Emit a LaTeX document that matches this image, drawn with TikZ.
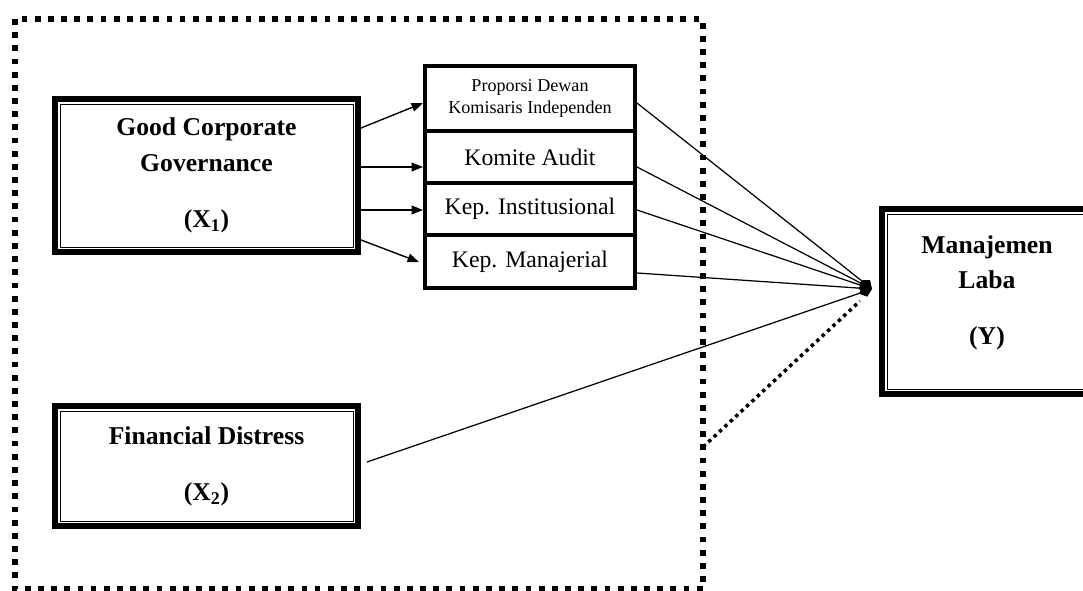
\documentclass[tikz,border=0pt]{standalone}
\usepackage{fontspec}
\setmainfont{Liberation Serif}
\usetikzlibrary{arrows.meta}
\tikzset{
  dbox/.style={draw, line width=3.4pt, outer sep=0pt, inner sep=0pt},
  headtext/.style={align=center, font=\fontsize{14.6}{20}\selectfont\bfseries},
  sbox/.style={draw, line width=2.3pt, minimum width=4.2cm, align=center, inner sep=0pt, font=\fontsize{13.5}{16}\selectfont},
  link/.style={line width=0.7pt, -{Diamond[length=8pt,width=6.5pt]}},
  arr/.style={line width=0.8pt, -{Triangle[length=6.5pt,width=5pt]}},
}
\begin{document}
\begin{tikzpicture}[x=0.02cm, y=-0.02cm]
\useasboundingbox (0,0) rectangle (1083,591);
\coordinate (Z) at (872,289);
\coordinate (s1) at (361,128);
\coordinate (s2) at (361,167);
\coordinate (s3) at (361,210);
\coordinate (s4) at (361,240);
\coordinate (t1) at (423,103);
\coordinate (t4) at (419,262);
\coordinate (e4) at (637,273);
\coordinate (f0) at (367,462);
\coordinate (c0) at (703,447);
\coordinate (c1) at (860,301);

\draw[line width=3.2pt, dash pattern=on 3.3pt off 4.2pt] (15,19) rectangle (703,589);

\node[dbox, minimum width=6.06cm, minimum height=3.06cm, headtext] (X1) at (206.5,175.5) {Good Corporate\\Governance\\[12pt](X\textsubscript{1})};
\node[dbox, minimum width=6.06cm, minimum height=2.4cm, headtext] (X2) at (206.5,466) {Financial Distress\\[12pt](X\textsubscript{2})};
\node[dbox, minimum width=4.26cm, minimum height=3.7cm] (Y) at (988.5,301.5) {};
\node[headtext] (Ylabel) at (987,293) {Manajemen\\Laba\\[12pt](Y)};

\foreach \n in {X1,X2,Y}
  \draw[line width=0.5pt] ([shift={(5,5)}]\n.north west) rectangle ([shift={(-5,-5)}]\n.south east);

\node[sbox, minimum height=1.3cm, font=\fontsize{10.3}{12.5}\selectfont] (p1) at (530,98.5) {Proporsi Dewan\\Komisaris Independen};
\node[sbox, minimum height=1.04cm] (p2) at (530,157) {Komite Audit};
\node[sbox, minimum height=1.04cm] (p3) at (530,209) {Kep. Institusional};
\node[sbox, minimum height=1.06cm] (p4) at (530,261.5) {Kep. Manajerial};

\draw[arr] (s1) -- (t1);
\draw[arr] (s2) -- (s2 -| p2.west);
\draw[arr] (s3) -- (s3 -| p3.west);
\draw[arr] (s4) -- (t4);

\draw[link] (p1.east |- t1) -- (Z);
\draw[link] (p2.east |- s2) -- (Z);
\draw[link] (p3.east |- s3) -- (Z);
\draw[link] (e4) -- (Z);
\draw[link] (f0) -- (Z);
\draw[line width=2pt, dash pattern=on 2pt off 2.2pt] (c0) -- (c1);
\end{tikzpicture}
\end{document}
